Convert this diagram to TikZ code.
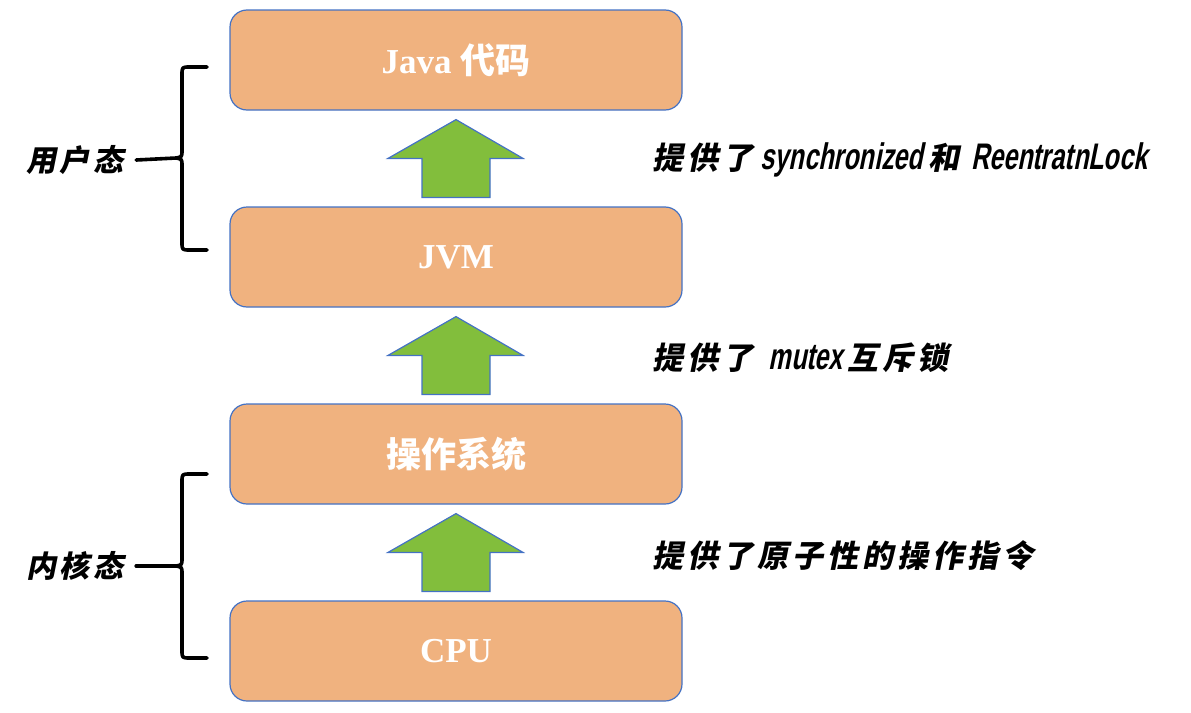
\documentclass[tikz,border=0pt]{standalone}
\usepackage{fontspec}
\usetikzlibrary{calc}
\setmainfont{Liberation Serif}
\newfontfamily\cjkbox{Noto Sans CJK SC}
\newfontfamily\labcjk{Noto Sans CJK SC}[FakeSlant=0.2]
\newfontfamily\lablat{Liberation Sans}[FakeSlant=0.2,FakeStretch=0.68]
\definecolor{boxfill}{HTML}{F0B27F}
\definecolor{boxline}{HTML}{4472C4}
\definecolor{arrowgreen}{HTML}{82BE3C}
\newcommand{\gap}{\hspace{4pt}}
\newcommand{\cj}[1]{{\labcjk\bfseries #1}}
\newcommand{\la}[1]{{\lablat\fontsize{37}{40}\selectfont\bfseries #1}}
\tikzset{
  layerbox/.style={draw=boxline, line width=1.2pt, fill=boxfill, rounded corners=17pt,
    minimum width=452pt, minimum height=100pt, text=white,
    font=\fontsize{35}{40}\selectfont\bfseries, inner sep=0pt},
  uparrow/.style={draw=boxline, line width=1.2pt, fill=arrowgreen, line join=miter},
  brace/.style={draw=black, line width=3.6pt, line cap=round, line join=round},
  sidelabel/.style={font=\fontsize{31}{36}\selectfont, anchor=west, inner sep=0pt},
  statelabel/.style={font=\fontsize{30}{36}\selectfont, inner sep=0pt}
}
\begin{document}
\begin{tikzpicture}[x=1pt,y=-1pt]
\useasboundingbox (0,0) rectangle (1191,712);
% boxes
\node[layerbox] (java) at (456,60) {Java {\cjkbox\bfseries 代码}};
\node[layerbox] (jvm)  at (456,257) {JVM};
\node[layerbox] (os)   at (456,454) {{\cjkbox\bfseries 操作系统}};
\node[layerbox] (cpu)  at (456,651) {CPU};
% block arrows (bottom box -> top box)
\foreach \lo/\hi in {jvm/java, os/jvm, cpu/os}{
  \path[uparrow] ($(\lo.north)+(-34,-9)$) -- ++(0,-39) -- ++(-34,0)
     -- ($(\hi.south)+(0,9)$) -- ($(\lo.north)+(67,-48)$) -- ++(-33,0)
     -- ($(\lo.north)+(34,-9)$) -- cycle;
}
% right labels
\node[sidelabel] (l1) at (652,160) {\cj{提\gap 供\gap 了} \la{synchronized}\,\cj{和}\gap\ \la{ReentratnLock}};
\node[sidelabel] (l2) at (652,358) {\cj{提\gap 供\gap 了}\ \ \la{mutex}\,\cj{互\gap 斥\gap 锁}};
\node[sidelabel] (l3) at (652,556) {\cj{提\gap 供\gap 了\gap 原\gap 子\gap 性\gap 的\gap 操\gap 作\gap 指\gap 令}};
% left state labels
\node[statelabel] (user) at (75,160) {\cj{用\gap 户\gap 态}};
\node[statelabel] (kern) at (75,566) {\cj{内\gap 核\gap 态}};
\coordinate (ut) at (176,158);
\coordinate (kt) at (176,566);
% braces
\draw[brace] (207,67) -- (190,67) .. controls (182,67) .. (182,75) -- (182,150)
   .. controls (182,157) .. (176,158) .. controls (182,159) .. (182,166)
   -- (182,242) .. controls (182,250) .. (190,250) -- (207,250);
\draw[brace] (user.east) ++(12,0) -- (ut);
\draw[brace] (207,474) -- (190,474) .. controls (182,474) .. (182,482) -- (182,558)
   .. controls (182,565) .. (176,566) .. controls (182,567) .. (182,574)
   -- (182,650) .. controls (182,658) .. (190,658) -- (207,658);
\draw[brace] (kern.east) ++(12,0) -- (kt);
\end{tikzpicture}
\end{document}
